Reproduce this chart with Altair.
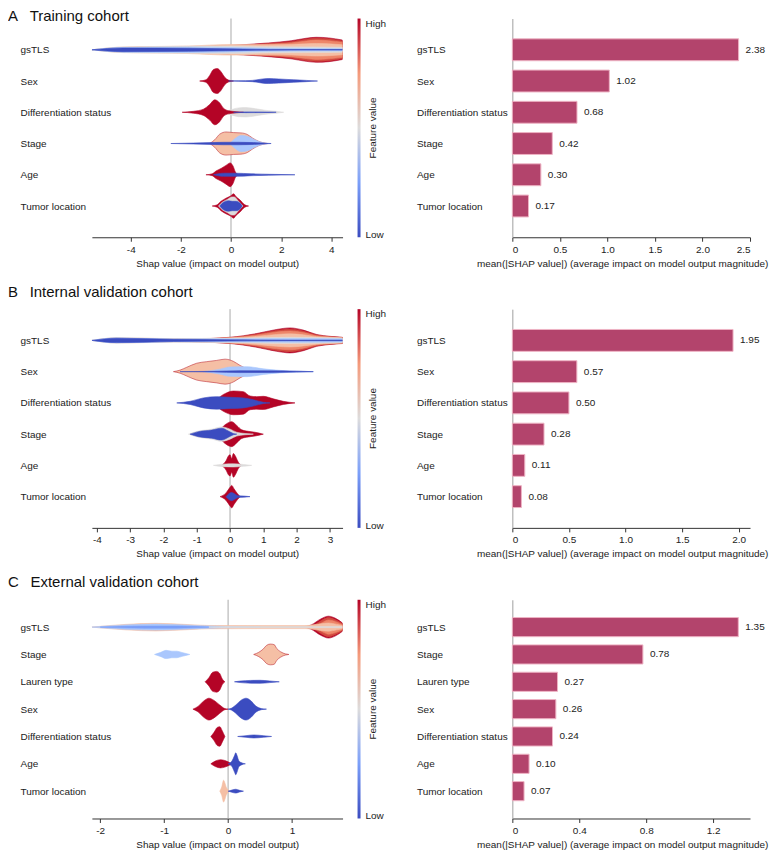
import altair as alt
import pandas as pd

# ---------------- colours ----------------
RED = "#b40426"
RED2 = "#d24b40"
RED3 = "#ee8669"
SALMON = "#f5bfa5"
GRAY = "#dddcdc"
LBLUE = "#aac7fd"
MBLUE = "#7b9ff9"
BLUE = "#3b4cc0"
EDGE = "#c0303a"
BAR_FILL = "#b3446c"
BAR_EDGE = "#eeb3c4"
FONT = "Liberation Sans, Arial, sans-serif"

# ---------------- categories & bar values ----------------
FEATURES_A = ["gsTLS", "Sex", "Differentiation status", "Stage", "Age", "Tumor location"]
FEATURES_B = ["gsTLS", "Sex", "Differentiation status", "Stage", "Age", "Tumor location"]
FEATURES_C = ["gsTLS", "Stage", "Lauren type", "Sex", "Differentiation status", "Age", "Tumor location"]

MEAN_ABS_A = [2.38, 1.02, 0.68, 0.42, 0.30, 0.17]
MEAN_ABS_B = [1.95, 0.57, 0.50, 0.28, 0.11, 0.08]
MEAN_ABS_C = [1.35, 0.78, 0.27, 0.26, 0.24, 0.10, 0.07]

SHAP_DOMAIN_A = [-5.55, 4.45]
SHAP_DOMAIN_B = [-4.15, 3.38]
SHAP_DOMAIN_C = [-2.13, 1.79]
SHAP_TICKS_A = [-4, -2, 0, 2, 4]
SHAP_TICKS_B = [-4, -3, -2, -1, 0, 1, 2, 3]
SHAP_TICKS_C = [-2, -1, 0, 1]

BAR_DOMAIN_A = [0, 2.5]
BAR_DOMAIN_B = [0, 2.1]
BAR_DOMAIN_C = [0, 1.42]
BAR_TICKS_A = [0, 0.5, 1.0, 1.5, 2.0, 2.5]
BAR_TICKS_B = [0, 0.5, 1.0, 1.5, 2.0]
BAR_TICKS_C = [0, 0.4, 0.8, 1.2]

# ---------------- violin layers: (fill, stroke, [(shap x, half width)]) ----------------
A_GSTLS = [
    (RED, RED, [(-5.3, 0), (-4.3, 0.05), (-1.7, 0.08), (0, 0.14), (1.5, 0.22), (2.4, 0.29), (3.0, 0.37), (3.4, 0.40), (3.9, 0.38), (4.45, 0.31)]),
    (RED2, RED2, [(-5.3, 0), (-4.3, 0.05), (-1.7, 0.08), (0, 0.13), (1.5, 0.20), (2.4, 0.26), (3.0, 0.34), (3.4, 0.37), (3.9, 0.35), (4.45, 0.28)]),
    (RED3, RED3, [(-5.3, 0), (-4.3, 0.05), (-1.7, 0.08), (0, 0.12), (1.5, 0.18), (2.4, 0.22), (3.0, 0.28), (3.4, 0.31), (3.9, 0.29), (4.45, 0.24)]),
    (SALMON, SALMON, [(-5.55, 0), (-4.3, 0.09), (-1.7, 0.12), (0, 0.17), (1.5, 0.16), (2.4, 0.17), (3.0, 0.19), (3.4, 0.20), (3.9, 0.19), (4.45, 0.16)]),
    (GRAY, GRAY, [(-5.55, 0), (-4.3, 0.085), (-1.7, 0.11), (0, 0.12), (1.5, 0.10), (3.4, 0.09), (4.45, 0.08)]),
    (LBLUE, LBLUE, [(-5.55, 0), (-4.3, 0.075), (-1.7, 0.085), (0, 0.07), (1.5, 0.05), (3.4, 0.04), (4.45, 0.035)]),
    (BLUE, BLUE, [(-5.55, 0), (-4.3, 0.06), (-1.7, 0.05), (0, 0.03), (1.5, 0.012), (3.4, 0.008), (4.45, 0.008)]),
]
A_SEX = [
    (RED, RED, [(-1.25, 0), (-1.0, 0.04), (-0.85, 0.18), (-0.7, 0.37), (-0.55, 0.40), (-0.4, 0.30), (-0.25, 0.12), (-0.1, 0.03), (0.1, 0)]),
    (BLUE, BLUE, [(-0.1, 0), (0.3, 0.006), (0.85, 0.02), (1.2, 0.06), (1.5, 0.08), (1.9, 0.065), (2.5, 0.04), (3.0, 0.02), (3.45, 0)]),
]
A_DIFF = [
    (GRAY, GRAY, [(-0.5, 0), (-0.1, 0.06), (0.3, 0.14), (0.6, 0.15), (1.0, 0.11), (1.4, 0.06), (1.8, 0.03), (2.1, 0)]),
    (RED, RED, [(-1.95, 0), (-1.5, 0.03), (-1.1, 0.10), (-0.85, 0.25), (-0.65, 0.40), (-0.45, 0.30), (-0.3, 0.13), (-0.1, 0.05), (0.2, 0.02), (0.5, 0)]),
    (BLUE, BLUE, [(0.1, 0), (0.6, 0.012), (1.2, 0.01), (1.8, 0)]),
]
A_STAGE = [
    (SALMON, EDGE, [(-0.85, 0), (-0.65, 0.12), (-0.45, 0.30), (-0.2, 0.37), (0.1, 0.35), (0.4, 0.34), (0.65, 0.29), (0.85, 0.18), (1.1, 0.07), (1.45, 0)]),
    (LBLUE, LBLUE, [(-0.05, 0), (0.15, 0.15), (0.4, 0.26), (0.7, 0.22), (0.95, 0.12), (1.2, 0.04), (1.45, 0)]),
    (BLUE, BLUE, [(-2.4, 0), (-1.5, 0.015), (-0.8, 0.03), (-0.3, 0.04), (0.3, 0.04), (0.9, 0.03), (1.6, 0)]),
]
A_AGE = [
    (RED, RED, [(-1.0, 0), (-0.75, 0.03), (-0.6, 0.12), (-0.4, 0.20), (-0.2, 0.30), (-0.03, 0.38), (0.08, 0.28), (0.18, 0.08), (0.3, 0)]),
    (BLUE, BLUE, [(-0.7, 0), (-0.3, 0.05), (0.2, 0.05), (0.8, 0.03), (1.5, 0.015), (2.55, 0)]),
]
A_TUMOR = [
    (RED, RED, [(-0.75, 0), (-0.55, 0.04), (-0.4, 0.15), (-0.2, 0.25), (0.0, 0.33), (0.1, 0.39), (0.2, 0.30), (0.35, 0.20), (0.55, 0.04), (0.7, 0)]),
    (GRAY, GRAY, [(-0.5, 0), (-0.35, 0.12), (-0.15, 0.21), (0.03, 0.29), (0.13, 0.29), (0.28, 0.17), (0.48, 0)]),
    (BLUE, BLUE, [(-0.45, 0), (-0.3, 0.12), (-0.1, 0.17), (0.05, 0.15), (0.2, 0.15), (0.35, 0.10), (0.45, 0)]),
]
VIOLIN_A = [A_GSTLS, A_SEX, A_DIFF, A_STAGE, A_AGE, A_TUMOR]

B_GSTLS = [
    (RED, RED, [(-3.9, 0), (-3.4, 0.05), (-1.7, 0.03), (0, 0.10), (0.8, 0.22), (1.4, 0.35), (1.8, 0.40), (2.2, 0.33), (2.6, 0.19), (3.0, 0.13), (3.38, 0.10)]),
    (RED2, RED2, [(-3.9, 0), (-3.4, 0.05), (-1.7, 0.03), (0, 0.09), (0.8, 0.20), (1.4, 0.32), (1.8, 0.36), (2.2, 0.30), (2.6, 0.17), (3.0, 0.12), (3.38, 0.09)]),
    (RED3, RED3, [(-3.9, 0), (-3.4, 0.05), (-1.7, 0.03), (0, 0.085), (0.8, 0.17), (1.4, 0.27), (1.8, 0.30), (2.2, 0.25), (2.6, 0.15), (3.0, 0.11), (3.38, 0.085)]),
    (SALMON, SALMON, [(-4.15, 0), (-3.4, 0.085), (-1.7, 0.055), (0, 0.08), (0.8, 0.13), (1.4, 0.19), (1.8, 0.21), (2.2, 0.18), (2.6, 0.12), (3.0, 0.10), (3.38, 0.08)]),
    (GRAY, GRAY, [(-4.15, 0), (-3.4, 0.082), (-1.7, 0.05), (0, 0.065), (1.8, 0.10), (3.38, 0.07)]),
    (LBLUE, LBLUE, [(-4.15, 0), (-3.4, 0.08), (-1.7, 0.045), (0, 0.05), (1.8, 0.06), (3.38, 0.05)]),
    (BLUE, BLUE, [(-4.15, 0), (-3.4, 0.07), (-1.7, 0.035), (0, 0.02), (1.8, 0.01), (3.38, 0.01)]),
]
B_SEX = [
    (SALMON, EDGE, [(-1.7, 0), (-1.5, 0.05), (-1.3, 0.14), (-1.0, 0.27), (-0.7, 0.32), (-0.4, 0.36), (-0.15, 0.40), (0.1, 0.33), (0.3, 0.20), (0.5, 0.10), (0.8, 0.04), (1.2, 0)]),
    (LBLUE, LBLUE, [(-0.8, 0), (-0.3, 0.08), (0, 0.15), (0.5, 0.16), (1.0, 0.09), (1.5, 0.04), (2.0, 0.015), (2.5, 0)]),
    (BLUE, BLUE, [(-1.5, 0), (-0.5, 0.01), (0.3, 0.03), (1.2, 0.025), (2.0, 0.015), (2.5, 0)]),
]
B_DIFF = [
    (RED, RED, [(-0.8, 0), (-0.5, 0.05), (-0.2, 0.27), (0.1, 0.38), (0.4, 0.36), (0.6, 0.22), (0.8, 0.20), (1.0, 0.21), (1.3, 0.13), (1.6, 0.05), (1.95, 0)]),
    (BLUE, BLUE, [(-1.6, 0), (-1.2, 0.05), (-0.8, 0.16), (-0.4, 0.20), (0, 0.18), (0.4, 0.16), (0.7, 0.10), (1.0, 0.02), (1.2, 0)]),
]
B_STAGE = [
    (RED, RED, [(-0.6, 0), (-0.35, 0.10), (-0.15, 0.30), (0.05, 0.40), (0.2, 0.28), (0.35, 0.14), (0.55, 0.09), (0.75, 0.06), (1.0, 0)]),
    (GRAY, GRAY, [(-1.25, 0), (-0.95, 0.10), (-0.55, 0.16), (-0.25, 0.23), (0.0, 0.16), (0.2, 0.06), (0.45, 0.02), (0.7, 0)]),
    (BLUE, BLUE, [(-1.2, 0), (-0.95, 0.08), (-0.55, 0.13), (-0.25, 0.19), (-0.05, 0.10), (0.1, 0.02), (0.2, 0)]),
]
B_AGE = [
    (RED, RED, [(-0.25, 0), (-0.12, 0.15), (-0.05, 0.30), (0.0, 0.34), (0.05, 0.22), (0.1, 0.38), (0.16, 0.30), (0.25, 0.10), (0.35, 0)]),
    (GRAY, GRAY, [(-0.5, 0), (-0.2, 0.04), (0.1, 0.05), (0.4, 0.03), (0.65, 0)]),
]
B_TUMOR = [
    (RED, RED, [(-0.3, 0), (-0.12, 0.12), (0.0, 0.30), (0.05, 0.36), (0.12, 0.25), (0.22, 0.10), (0.3, 0)]),
    (BLUE, BLUE, [(-0.12, 0), (-0.05, 0.08), (0.05, 0.13), (0.15, 0.08), (0.25, 0.03), (0.4, 0.02), (0.6, 0)]),
]
VIOLIN_B = [B_GSTLS, B_SEX, B_DIFF, B_STAGE, B_AGE, B_TUMOR]

C_GSTLS = [
    (RED, RED, [(1.2, 0), (1.3, 0.08), (1.45, 0.30), (1.57, 0.40), (1.68, 0.32), (1.79, 0.15)]),
    (RED2, RED2, [(1.25, 0), (1.35, 0.08), (1.47, 0.26), (1.57, 0.35), (1.68, 0.27), (1.79, 0.12)]),
    (RED3, RED3, [(1.3, 0), (1.4, 0.08), (1.5, 0.20), (1.57, 0.26), (1.68, 0.20), (1.79, 0.09)]),
    (SALMON, SALMON, [(-2.13, 0), (-1.6, 0.10), (-1.13, 0.14), (-0.6, 0.09), (-0.3, 0.06), (0.5, 0.055), (1.2, 0.055), (1.45, 0.12), (1.57, 0.15), (1.7, 0.10), (1.79, 0.06)]),
    (LBLUE, LBLUE, [(-2.13, 0), (-1.6, 0.08), (-1.13, 0.11), (-0.6, 0.07), (-0.3, 0.04), (0, 0.02), (0.5, 0)]),
    (MBLUE, MBLUE, [(-2.0, 0), (-1.3, 0.04), (-0.8, 0.04), (-0.3, 0)]),
    (GRAY, GRAY, [(-0.3, 0), (0, 0.02), (1.79, 0.02)]),
]
C_STAGE = [
    (LBLUE, LBLUE, [(-1.15, 0), (-1.05, 0.08), (-0.97, 0.15), (-0.88, 0.12), (-0.8, 0.12), (-0.72, 0.07), (-0.6, 0)]),
    (SALMON, EDGE, [(0.40, 0), (0.48, 0.08), (0.55, 0.20), (0.6, 0.33), (0.66, 0.38), (0.72, 0.36), (0.76, 0.22), (0.82, 0.10), (0.9, 0.02), (0.95, 0)]),
]
C_LAUREN = [
    (RED, RED, [(-0.36, 0), (-0.3, 0.15), (-0.24, 0.35), (-0.18, 0.38), (-0.13, 0.30), (-0.09, 0.10), (-0.05, 0)]),
    (BLUE, BLUE, [(0.1, 0), (0.2, 0.03), (0.35, 0.05), (0.5, 0.055), (0.65, 0.03), (0.8, 0)]),
]
C_SEX = [
    (RED, RED, [(-0.55, 0), (-0.47, 0.10), (-0.38, 0.30), (-0.3, 0.40), (-0.22, 0.32), (-0.13, 0.15), (-0.05, 0.02), (0.0, 0)]),
    (BLUE, BLUE, [(0.0, 0), (0.05, 0.03), (0.12, 0.15), (0.2, 0.32), (0.28, 0.40), (0.36, 0.30), (0.43, 0.12), (0.52, 0.02), (0.6, 0)]),
]
C_DIFF = [
    (RED, RED, [(-0.27, 0), (-0.22, 0.15), (-0.17, 0.33), (-0.13, 0.36), (-0.09, 0.20), (-0.05, 0)]),
    (BLUE, BLUE, [(0.15, 0), (0.28, 0.03), (0.4, 0.055), (0.55, 0.03), (0.68, 0)]),
]
C_AGE = [
    (RED, RED, [(-0.27, 0), (-0.2, 0.10), (-0.12, 0.15), (-0.05, 0.12), (0.02, 0.05), (0.06, 0)]),
    (BLUE, BLUE, [(0.0, 0), (0.06, 0.10), (0.1, 0.30), (0.12, 0.40), (0.14, 0.30), (0.17, 0.10), (0.22, 0.03), (0.27, 0)]),
]
C_TUMOR = [
    (SALMON, SALMON, [(-0.13, 0), (-0.1, 0.15), (-0.07, 0.40), (-0.05, 0.30), (-0.03, 0.15), (0.0, 0.05), (0.02, 0)]),
    (BLUE, BLUE, [(0.0, 0), (0.06, 0.04), (0.12, 0.07), (0.18, 0.03), (0.24, 0)]),
]
VIOLIN_C = [C_GSTLS, C_STAGE, C_LAUREN, C_SEX, C_DIFF, C_AGE, C_TUMOR]

PLOT_W_L = 251
PLOT_W_R = 238
CBAR_W = 140
PLOT_H = 219


def violin_frame(layers_by_feature):
    rows = []
    for i, layers in enumerate(layers_by_feature):
        for d, (fill, stroke, pts) in enumerate(layers):
            for x, h in pts:
                rows.append(dict(x=x, y=i - h, y2=i + h, depth=d,
                                 key=f"{i}_{d}", fill=fill, stroke=stroke))
    return pd.DataFrame(rows)


def label_expr(feats):
    return "[" + ",".join("'" + f + "'" for f in feats) + "][datum.value]"


def violin_chart(feats, layers, dom, ticks):
    n = len(feats)
    df = violin_frame(layers)
    xs = alt.Scale(domain=dom, nice=False, zero=False)
    ys = alt.Scale(domain=[-1, n], reverse=True, nice=False, zero=False)
    xaxis = alt.Axis(values=ticks, labelExpr="datum.value",
                     title="Shap value (impact on model output)",
                     titleFontWeight="normal",
                     domainColor="#333333", tickColor="#333333", tickSize=4,
                     labelPadding=3, titlePadding=4, grid=False)
    yaxis = alt.Axis(values=list(range(n)), labelExpr=label_expr(feats),
                     domain=False, ticks=False, tickSize=0, labelAlign="left",
                     labelPadding=72, title=None, grid=False)
    zero = alt.Chart(pd.DataFrame({"z": [0.0]})).mark_rule(
        color="#aaaaaa", strokeWidth=1
    ).encode(x=alt.X("z:Q", scale=xs, axis=xaxis))
    layers_out = [zero]
    maxd = int(df["depth"].max()) + 1
    for d in range(maxd):
        layers_out.append(
            alt.Chart(df).transform_filter(alt.datum.depth == d).mark_area(
                orient="vertical", interpolate="monotone", clip=True, strokeWidth=0.6
            ).encode(
                x=alt.X("x:Q", scale=xs, axis=xaxis),
                y=alt.Y("y:Q", scale=ys, axis=yaxis),
                y2="y2:Q",
                fill=alt.Fill("fill:N", scale=None),
                stroke=alt.Stroke("stroke:N", scale=None),
                detail="key:N",
            )
        )
    return alt.layer(*layers_out).properties(width=PLOT_W_L, height=PLOT_H)


def colorbar():
    df = pd.DataFrame({"k": [0]})
    grad = {"gradient": "linear", "x1": 0, "x2": 0, "y1": 1, "y2": 0,
            "stops": [{"offset": 0, "color": "#3b4cc0"},
                      {"offset": 0.25, "color": "#7b9ff9"},
                      {"offset": 0.5, "color": "#dddcdc"},
                      {"offset": 0.75, "color": "#f49a7b"},
                      {"offset": 1, "color": "#b40426"}]}
    base = alt.Chart(df)
    bar = base.mark_rect(color=grad).encode(
        x=alt.value(0), x2=alt.value(3), y=alt.value(0), y2=alt.value(PLOT_H))
    hi = base.mark_text(text="High", align="left", baseline="top", fontSize=10,
                        font=FONT, color="#222222").encode(
        x=alt.value(8), y=alt.value(0))
    lo = base.mark_text(text="Low", align="left", baseline="alphabetic", fontSize=10,
                        font=FONT, color="#222222").encode(
        x=alt.value(8), y=alt.value(PLOT_H + 1))
    ttl = base.mark_text(text="Feature value", align="center", baseline="middle",
                         angle=270, fontSize=10, font=FONT, color="#222222").encode(
        x=alt.value(15), y=alt.value(PLOT_H / 2))
    return alt.layer(bar, hi, lo, ttl).properties(width=CBAR_W, height=PLOT_H)


def bar_chart(feats, vals, dom, ticks):
    n = len(feats)
    df = pd.DataFrame({"idx": list(range(n)), "feat": feats, "v": vals})
    xs = alt.Scale(domain=dom, nice=False, zero=False)
    ys = alt.Scale(domain=[-1, n], reverse=True, nice=False, zero=False)
    xaxis = alt.Axis(values=ticks,
                     labelExpr="datum.value == 0 ? '0' : format(datum.value, '.1f')",
                     title="mean(|SHAP value|) (average impact on model output magnitude)",
                     titleFontWeight="normal",
                     titleX=110, domainColor="#333333", tickColor="#333333",
                     tickSize=4, labelPadding=3, titlePadding=4, grid=False)
    yaxis = alt.Axis(values=list(range(n)), labelExpr=label_expr(feats),
                     domain=True, domainColor="#a0a0a0", ticks=False, tickSize=0,
                     labelAlign="left", labelPadding=96, title=None, grid=False)
    base = alt.Chart(df).transform_calculate(y0="datum.idx - 0.35", y1="datum.idx + 0.35")
    bars = base.mark_rect(fill=BAR_FILL, stroke=BAR_EDGE, strokeWidth=1).encode(
        x=alt.X("v:Q", scale=xs, axis=xaxis), x2=alt.datum(0),
        y=alt.Y("y0:Q", scale=ys, axis=yaxis), y2="y1:Q")
    text = base.mark_text(align="left", dx=7, baseline="middle", fontSize=10,
                          color="#222222", font=FONT).encode(
        x=alt.X("v:Q", scale=xs, axis=xaxis),
        y=alt.Y("idx:Q", scale=ys, axis=yaxis),
        text=alt.Text("v:Q", format=".2f"))
    return alt.layer(bars, text).properties(width=PLOT_W_R, height=PLOT_H)


def row(title, offset, feats, layers, vdom, vticks, vals, bdom, bticks):
    return alt.hconcat(violin_chart(feats, layers, vdom, vticks), colorbar(),
                       bar_chart(feats, vals, bdom, bticks),
                       spacing=15, bounds="flush").properties(
        title=alt.TitleParams(title, anchor="start", dx=-12, offset=offset,
                              fontSize=15, fontWeight="normal", font=FONT,
                              color="#111111"))


rowA = row("A\u2002\u00a0Training cohort", -6, FEATURES_A, VIOLIN_A, SHAP_DOMAIN_A,
           SHAP_TICKS_A, MEAN_ABS_A, BAR_DOMAIN_A, BAR_TICKS_A)
rowB = row("B\u2002\u00a0Internal validation cohort", 9, FEATURES_B, VIOLIN_B, SHAP_DOMAIN_B,
           SHAP_TICKS_B, MEAN_ABS_B, BAR_DOMAIN_B, BAR_TICKS_B)
rowC = row("C\u2002\u00a0External validation cohort", 9, FEATURES_C, VIOLIN_C, SHAP_DOMAIN_C,
           SHAP_TICKS_C, MEAN_ABS_C, BAR_DOMAIN_C, BAR_TICKS_C)

chart = alt.vconcat(rowA, rowB, rowC, spacing=16).properties(
    padding={"left": 0, "top": 0, "right": 0, "bottom": 0},
    background="white",
).configure_axis(
    labelFont=FONT, titleFont=FONT, labelFontSize=10, titleFontSize=10,
    labelColor="#222222", titleColor="#222222", titleFontWeight="normal"
).configure_view(stroke=None)

chart.save("out.html", embed_options={"renderer": "svg", "actions": False})
